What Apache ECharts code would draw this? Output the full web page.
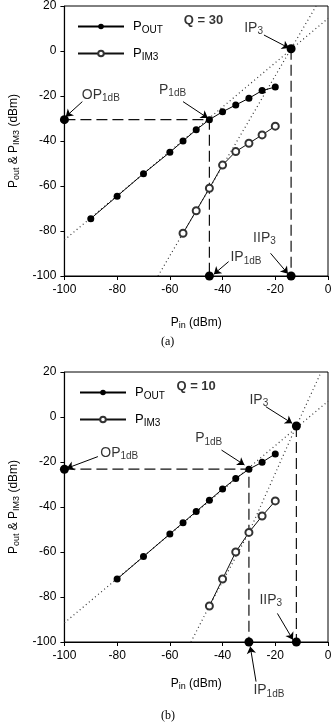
<!DOCTYPE html>
<html>
<head>
<meta charset="utf-8">
<script src="https://cdn.jsdelivr.net/npm/echarts@6/dist/echarts.min.js"></script>
<style>
html, body { margin: 0; padding: 0; background: #fff; }
#chart { width: 336px; height: 722px; }
</style>
</head>
<body>
<div id="chart"></div>
<script>
// ---- panel (a), Q = 30 ----
var pinA = [-90, -80, -70, -60, -55, -50, -45, -40, -35, -30, -25, -20];
var poutA = [-74.5, -64.5, -54.5, -45, -40, -35, -30.5, -27, -24, -21, -17.6, -16];
var pinIm3A = [-55, -50, -45, -40, -35, -30, -25, -20];
var pim3A = [-81, -71, -61, -50.7, -44.7, -41, -37.3, -33.4];
var outFitA = [[-100, -84], [0, 14.5]];
var im3FitA = [[-64.5, -100], [-4.5, 20]];
var keyPtsA = [[-100, -30.5], [-45, -100], [-14, -100], [-14, 1]];
var dashA = [[[-100, -30.5], [-45, -30.5], [-45, -100]], [[-14, 1], [-14, -100]]];
var notesA = [
  { text: '{m|OP}{s|1dB}', at: [-93.6, -19.6], from: [-93.2, -22.5], to: [-99.5, -29.2] },
  { text: '{m|P}{s|1dB}', at: [-64.3, -17.3], from: [-55, -22.5], to: [-45.6, -29.8] },
  { text: '{m|IP}{s|3}', at: [-32, 10.2], from: [-24.3, 7.1], to: [-14.8, 1.3] },
  { text: '{m|IIP}{s|3}', at: [-28.6, -83.1], from: [-21.8, -89.9], to: [-15.2, -99] },
  { text: '{m|IP}{s|1dB}', at: [-37.2, -91.7], from: [-37.7, -93.6], to: [-43.3, -99.2] },
  { text: '{q|Q = 30}', at: [-54.9, 13.8] }
];

// ---- panel (b), Q = 10 ----
var pinB = [-80, -70, -60, -55, -50, -45, -40, -35, -30, -25, -20];
var poutB = [-72, -62, -52, -47, -42, -37, -32, -27.3, -23.2, -20.1, -16.4];
var pinIm3B = [-45, -40, -35, -30, -25, -20];
var pim3B = [-84, -72, -60, -51.3, -44, -37.3];
var outFitB = [[-100, -91.5], [0, 7]];
var im3FitB = [[-52, -100], [-45, -84], [-30, -51.3], [-12, -4], [-2.6, 20]];
var keyPtsB = [[-100, -23.2], [-30, -100], [-12, -100], [-12, -4]];
var dashB = [[[-100, -23.2], [-30, -23.2], [-30, -100]], [[-12, -4], [-12, -100]]];
var notesB = [
  { text: '{m|OP}{s|1dB}', at: [-86.6, -16.1], from: [-87.3, -17.6], to: [-99.1, -22.8] },
  { text: '{m|P}{s|1dB}', at: [-50.6, -9.5], from: [-40.4, -14.7], to: [-31.7, -21.3] },
  { text: '{m|IP}{s|3}', at: [-30, 7.6], from: [-23.6, 4.6], to: [-13.6, -2.8] },
  { text: '{m|IIP}{s|3}', at: [-26.2, -81.3], from: [-19.2, -87.3], to: [-13.3, -99] },
  { text: '{m|IP}{s|1dB}', at: [-28.5, -121.5], from: [-27.3, -117.6], to: [-29.5, -102] },
  { text: '{q|Q = 10}', at: [-57.7, 13.5] }
];

var FONT = 'Liberation Sans';
var rich = {
  m: { fontSize: 14, fontFamily: FONT, color: '#000' },
  s: { fontSize: 10, fontFamily: FONT, color: '#000', padding: [7, 0, 0, 0] },
  q: { fontSize: 13, fontFamily: FONT, fontWeight: 'bold', color: '#000' }
};
var richLegend = {
  m: { fontSize: 13, fontFamily: FONT, color: '#000' },
  s: { fontSize: 10, fontFamily: FONT, color: '#000', padding: [7, 0, 0, 0] }
};
var richAxis = {
  m: { fontSize: 12, fontFamily: FONT, color: '#000' },
  s: { fontSize: 9, fontFamily: FONT, color: '#000', padding: [6, 0, 0, 0] }
};

function zip(xs, ys) {
  return xs.map(function (x, k) { return [x, ys[k]]; });
}

function panel(i, d) {
  var list = [
    {
      type: 'line', xAxisIndex: i, yAxisIndex: i, data: d.outFit, symbol: 'none', silent: true,
      lineStyle: { color: '#333', width: 1.2, type: [1, 3] }, z: 1
    },
    {
      type: 'line', xAxisIndex: i, yAxisIndex: i, data: d.im3Fit, symbol: 'none', silent: true,
      lineStyle: { color: '#333', width: 1.2, type: [1, 3] }, z: 1
    },
    {
      name: 'P_OUT', type: 'line', xAxisIndex: i, yAxisIndex: i, data: zip(d.pin, d.pout),
      symbol: 'circle', symbolSize: 7, itemStyle: { color: '#000' },
      lineStyle: { color: '#000', width: 1 }, z: 3
    },
    {
      name: 'P_IM3', type: 'line', xAxisIndex: i, yAxisIndex: i, data: zip(d.pinIm3, d.pim3),
      symbol: 'emptyCircle', symbolSize: 7, itemStyle: { color: '#333', borderWidth: 1 },
      lineStyle: { color: '#111', width: 1 }, z: 3
    },
    {
      type: 'scatter', xAxisIndex: i, yAxisIndex: i, data: d.keyPts, symbolSize: 9,
      itemStyle: { color: '#000', opacity: 1 }, clip: false, z: 4, silent: true
    },
    {
      type: 'lines', coordinateSystem: 'cartesian2d', xAxisIndex: i, yAxisIndex: i,
      symbol: ['none', 'arrow'], symbolSize: 7, silent: true, clip: false,
      lineStyle: { color: '#000', width: 1, opacity: 1, curveness: 0 },
      data: d.notes.filter(function (n) { return n.from; }).map(function (n) {
        return { coords: [n.from, n.to] };
      }), z: 5
    },
    {
      type: 'scatter', xAxisIndex: i, yAxisIndex: i, symbolSize: 1, clip: false, silent: true,
      itemStyle: { color: 'transparent' },
      data: d.notes.map(function (n) { return n.at; }),
      label: {
        show: true, position: 'right', distance: 0,
        formatter: function (p) { return d.notes[p.dataIndex].text; },
        rich: rich
      }, z: 5
    }
  ];
  d.dash.forEach(function (seg) {
    list.push({
      type: 'line', xAxisIndex: i, yAxisIndex: i, data: seg, symbol: 'none', silent: true,
      lineStyle: { color: '#111', width: 1.2, type: [11, 5] }, z: 2
    });
  });
  return list;
}

function xAx(i, gap) {
  return {
    type: 'value', gridIndex: i, min: -100, max: 0, interval: 20,
    axisLine: { onZero: false, lineStyle: { color: '#000', width: 1.2 } },
    axisTick: { show: true, length: 4, lineStyle: { color: '#000' } },
    axisLabel: { color: '#000', fontSize: 12, fontFamily: FONT, margin: 8 },
    splitLine: { show: false },
    name: '{m|P}{s|in}{m| (dBm)}', nameLocation: 'middle', nameGap: gap,
    nameTextStyle: { rich: richAxis }
  };
}

function yAx(i) {
  return {
    type: 'value', gridIndex: i, min: -100, max: 20, interval: 20,
    axisLine: { onZero: false, lineStyle: { color: '#000', width: 1.2 } },
    axisTick: { show: true, length: 4, lineStyle: { color: '#000' } },
    axisLabel: { color: '#000', fontSize: 12, fontFamily: FONT, margin: 8 },
    splitLine: { show: false },
    name: '{m|P}{s|out}{m| & P}{s|IM3}{m| (dBm)}', nameLocation: 'middle', nameGap: 41,
    nameRotate: 90, nameTextStyle: { rich: richAxis }
  };
}

function legendAt(top, left) {
  return {
    orient: 'vertical', top: top, left: left, itemWidth: 46, itemHeight: 7, itemGap: 12,
    data: ['P_OUT', 'P_IM3'], selectedMode: false,
    formatter: function (name) {
      return name === 'P_OUT' ? '{m|P}{s|OUT}' : '{m|P}{s|IM3}';
    },
    textStyle: { rich: richLegend, padding: [0, 0, 0, 4] }
  };
}

var chart = echarts.init(document.getElementById('chart'));
var option = {
  animation: false,
  backgroundColor: '#fff',
  grid: [
    { left: 62, top: 6, width: 266, height: 270, show: true, borderColor: '#000', borderWidth: 1 },
    { left: 61, top: 372, width: 267, height: 270, show: true, borderColor: '#000', borderWidth: 1 }
  ],
  xAxis: [xAx(0, 39), xAx(1, 34)],
  yAxis: [yAx(0), yAx(1)],
  legend: [legendAt(15, 72), legendAt(381, 74)],
  graphic: [
    { type: 'text', left: 161, top: 336, style: { text: '(a)', font: '12px "Liberation Serif"', fill: '#000' } },
    { type: 'text', left: 161, top: 710, style: { text: '(b)', font: '12px "Liberation Serif"', fill: '#000' } }
  ],
  series: panel(0, {
    pin: pinA, pout: poutA, pinIm3: pinIm3A, pim3: pim3A, outFit: outFitA, im3Fit: im3FitA,
    keyPts: keyPtsA, dash: dashA, notes: notesA
  }).concat(panel(1, {
    pin: pinB, pout: poutB, pinIm3: pinIm3B, pim3: pim3B, outFit: outFitB, im3Fit: im3FitB,
    keyPts: keyPtsB, dash: dashB, notes: notesB
  }))
};
chart.setOption(option);
</script>
</body>
</html>
